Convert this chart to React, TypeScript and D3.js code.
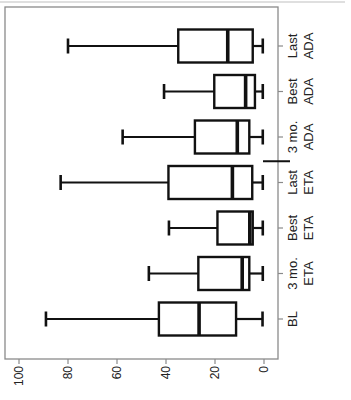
import React from 'react';
import * as d3 from 'd3';

// categories, bottom to top in the picture
const categories = ['BL', '3 mo. ETA', 'Best ETA', 'Last ETA', '3 mo. ADA', 'Best ADA', 'Last ADA'];
const whiskerLow = [0.6, 0.5, 0.5, 0.5, 0.5, 0.5, 0.5];
const q1 = [11.4, 6.0, 4.6, 4.8, 6.0, 3.7, 4.6];
const medians = [26.5, 8.9, 5.8, 12.9, 10.9, 7.5, 14.8];
const q3 = [42.9, 26.8, 19.0, 39.0, 28.2, 20.3, 35.0];
const whiskerHigh = [89, 47, 38.8, 83, 57.7, 40.8, 80];
const valueTicks = [0, 20, 40, 60, 80, 100];

const W = 351;
const H = 400;
const frame = { left: 5, right: 278, top: 7, bottom: 359 };

export default function App() {
  const x = d3.scaleLinear().domain([0, 100]).range([264, 19]);
  const y = d3.scalePoint<string>().domain(categories).range([319, 46]);
  const boxHalf = 16.5;
  const capHalf = 7.5;
  const grey = '#8a8a8a';
  const font = '"Liberation Sans", Arial, sans-serif';

  const rows = categories.map((c, i) => ({
    c,
    lo: whiskerLow[i],
    q1: q1[i],
    med: medians[i],
    q3: q3[i],
    hi: whiskerHigh[i],
  }));

  const splitY = ((y('Last ETA') as number) + (y('3 mo. ADA') as number)) / 2 + 1.5;

  return (
    <svg width={W} height={H} style={{ position: 'absolute', left: 0, top: 0, background: '#fff' }}>
      <line x1={0} x2={345} y1={2} y2={2} stroke="#d4d4d4" strokeWidth={1.5} />
      <rect
        x={frame.left}
        y={frame.top}
        width={frame.right - frame.left}
        height={frame.bottom - frame.top}
        fill="none"
        stroke={grey}
        strokeWidth={1.3}
      />

      {/* value axis along the bottom */}
      {valueTicks.map(t => (
        <g key={t} transform={`translate(${x(t)},0)`}>
          <line y1={frame.bottom} y2={frame.bottom + 5} stroke={grey} strokeWidth={1.2} />
          <text
            transform={`translate(0,${frame.bottom + 7}) rotate(-90)`}
            dy="0.35em"
            textAnchor="end"
            fontFamily={font}
            fontSize={12}
            fill="#222"
          >
            {t}
          </text>
        </g>
      ))}

      {/* category axis on the right */}
      {categories.map(c => {
        const cy = y(c) as number;
        const k = c.lastIndexOf(' ');
        const lines = k < 0 ? [c] : [c.slice(0, k), c.slice(k + 1)];
        return (
          <g key={c}>
            <line x1={frame.right} x2={frame.right + 5} y1={cy} y2={cy} stroke={grey} strokeWidth={1.2} />
            {lines.map((ln, j) => (
              <text
                key={j}
                transform={`translate(${lines.length === 1 ? 297 : 297 + j * 16},${cy}) rotate(-90)`}
                textAnchor="middle"
                fontFamily={font}
                fontSize={13}
                fill="#222"
              >
                {ln}
              </text>
            ))}
          </g>
        );
      })}

      {/* boxes */}
      {rows.map(r => {
        const cy = y(r.c) as number;
        return (
          <g key={r.c} stroke="#111" fill="none">
            <line x1={x(r.hi)} x2={x(r.q3)} y1={cy} y2={cy} strokeWidth={2.2} />
            <line x1={x(r.q1)} x2={x(r.lo)} y1={cy} y2={cy} strokeWidth={2.2} />
            <line x1={x(r.hi)} x2={x(r.hi)} y1={cy - capHalf} y2={cy + capHalf} strokeWidth={2.6} />
            <line x1={x(r.lo)} x2={x(r.lo)} y1={cy - capHalf} y2={cy + capHalf} strokeWidth={2.6} />
            <rect
              x={x(r.q3)}
              y={cy - boxHalf}
              width={x(r.q1) - x(r.q3)}
              height={boxHalf * 2}
              fill="#fff"
              strokeWidth={2.4}
            />
            <line x1={x(r.med)} x2={x(r.med)} y1={cy - boxHalf} y2={cy + boxHalf} strokeWidth={3.6} />
          </g>
        );
      })}

      {/* divider between ETA and ADA groups */}
      <line x1={x(0.4)} x2={frame.right + 12} y1={splitY} y2={splitY} stroke="#111" strokeWidth={2} />
    </svg>
  );
}
